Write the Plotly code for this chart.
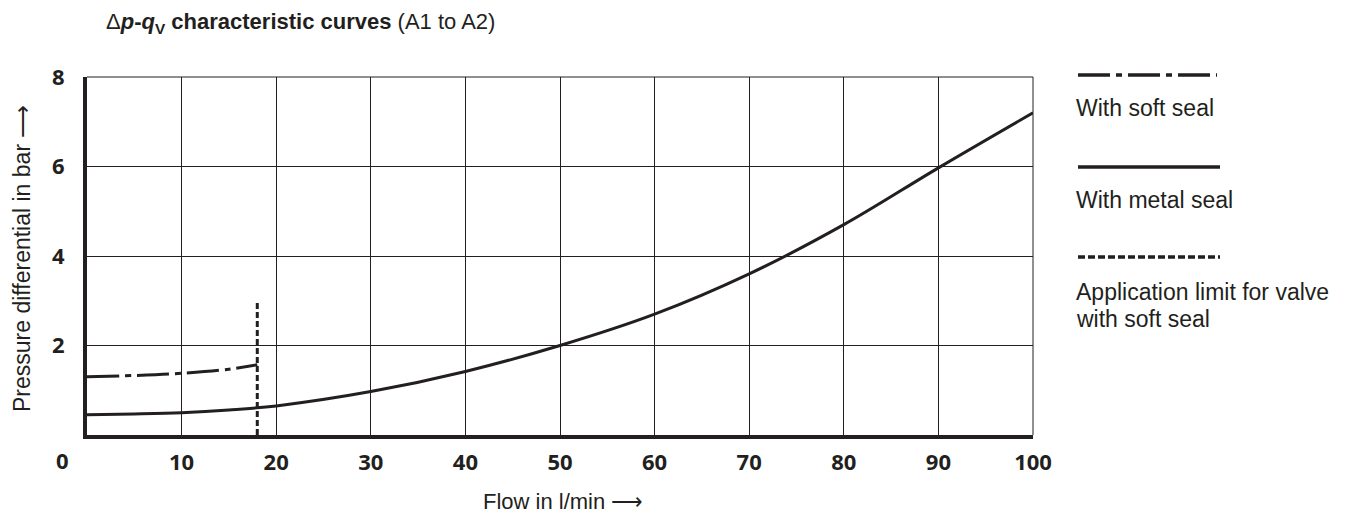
import plotly.graph_objects as go

# Data
metal_q = [0, 5, 10, 15, 20, 30, 40, 50, 60, 70, 80, 90, 100]
metal_dp = [0.45, 0.47, 0.50, 0.56, 0.65, 0.97, 1.42, 2.0, 2.7, 3.6, 4.7, 5.97, 7.2]
soft_q = [0, 5, 10, 15, 18]
soft_dp = [1.30, 1.33, 1.38, 1.47, 1.57]
limit_q = [18, 18]
limit_dp = [0, 3]

x_ticks = [10, 20, 30, 40, 50, 60, 70, 80, 90, 100]
y_ticks = [2, 4, 6, 8]

INK = "#231f20"
L, R, T, B = 87, 1033, 77, 435
W, H = 1347, 514


def px(xp):
    return (xp - L) / (R - L)


def py(yp):
    return (B - yp) / (B - T)


fig = go.Figure()
fig.add_trace(go.Scatter(x=metal_q, y=metal_dp, mode="lines",
                         line=dict(color=INK, width=3, shape="spline"),
                         name="With metal seal", showlegend=False))
fig.add_trace(go.Scatter(x=soft_q, y=soft_dp, mode="lines",
                         line=dict(color=INK, width=3, shape="spline", dash="32px,6px,6px,6px"),
                         name="With soft seal", showlegend=False))
fig.add_trace(go.Scatter(x=limit_q, y=limit_dp, mode="lines",
                         line=dict(color=INK, width=3, dash="6px,3px"),
                         name="Application limit", showlegend=False))

tickfont = dict(family="Open Sans", size=22, color=INK, weight="bold")
fig.update_xaxes(range=[0, 100], tickvals=x_ticks, ticktext=[str(v) for v in x_ticks],
                 showgrid=True, gridcolor=INK, gridwidth=1, zeroline=False,
                 showline=True, linecolor=INK, linewidth=3.5, ticks="",
                 tickfont=tickfont, ticklabelstandoff=5, automargin=False)
fig.update_yaxes(range=[0, 8], tickvals=y_ticks, ticktext=[str(v) for v in y_ticks],
                 showgrid=True, gridcolor=INK, gridwidth=1, zeroline=False,
                 showline=True, linecolor=INK, linewidth=4, ticks="",
                 tickfont=tickfont, ticklabelstandoff=14, automargin=False)

shapes = [
    dict(type="line", xref="paper", yref="paper", x0=0, x1=1, y0=1, y1=1,
         line=dict(color=INK, width=1)),
    dict(type="line", xref="paper", yref="paper", x0=1, x1=1, y0=0, y1=1,
         line=dict(color=INK, width=1)),
    # legend samples
    dict(type="line", xref="paper", yref="paper", x0=px(1078), x1=px(1217), y0=py(75), y1=py(75),
         line=dict(color=INK, width=3.5, dash="32px,6px,6px,6px")),
    dict(type="line", xref="paper", yref="paper", x0=px(1078), x1=px(1220), y0=py(167), y1=py(167),
         line=dict(color=INK, width=3.5)),
    dict(type="line", xref="paper", yref="paper", x0=px(1078), x1=px(1220), y0=py(257), y1=py(257),
         line=dict(color=INK, width=3.5, dash="7px,3px")),
]

txt = dict(family="Liberation Sans", size=23, color=INK)
annotations = [
    dict(text="0", xref="paper", yref="paper", x=px(62), y=py(460), showarrow=False,
         font=tickfont, xanchor="center", yanchor="middle"),
    dict(text="Δ<b><i>p</i>-<i>q</i><sub>V</sub> characteristic curves</b> (A1 to A2)",
         xref="paper", yref="paper", x=px(104), y=py(23), showarrow=False,
         font=dict(family="Liberation Sans", size=22, color=INK), xanchor="left", yanchor="middle"),
    dict(text="Flow in l/min ⟶", xref="paper", yref="paper", x=px(563), y=py(501),
         showarrow=False, font=dict(family="Liberation Sans", size=22, color=INK),
         xanchor="center", yanchor="middle"),
    dict(text="Pressure differential in bar ⟶", xref="paper", yref="paper", x=px(22), y=py(259),
         showarrow=False, font=dict(family="Liberation Sans", size=23, color=INK),
         textangle=-90, xanchor="center", yanchor="middle"),
    dict(text="With soft seal", xref="paper", yref="paper", x=px(1074), y=py(108),
         showarrow=False, font=txt, xanchor="left", yanchor="middle"),
    dict(text="With metal seal", xref="paper", yref="paper", x=px(1074), y=py(200),
         showarrow=False, font=txt, xanchor="left", yanchor="middle"),
    dict(text="Application limit for valve", xref="paper", yref="paper", x=px(1074), y=py(292),
         showarrow=False, font=txt, xanchor="left", yanchor="middle"),
    dict(text="with soft seal", xref="paper", yref="paper", x=px(1074), y=py(319),
         showarrow=False, font=txt, xanchor="left", yanchor="middle"),
]

fig.update_layout(width=W, height=H, margin=dict(l=L, r=W - R, t=T, b=H - B),
                  paper_bgcolor="white", plot_bgcolor="white",
                  shapes=shapes, annotations=annotations, showlegend=False)

fig.write_html("out.html", config={"displayModeBar": False},
               post_script="document.body.style.margin='0';")
